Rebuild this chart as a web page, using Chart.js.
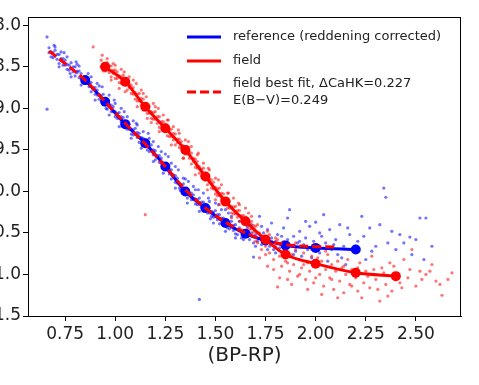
<!DOCTYPE html>
<html>
<head>
<meta charset="utf-8">
<script src="https://cdn.jsdelivr.net/npm/chart.js@4.4.1/dist/chart.umd.min.js"></script>
<style>
html, body { margin: 0; padding: 0; background: #fff; overflow: hidden; }
#wrap { position: absolute; left: -40px; top: 0; width: 519px; height: 385px; }
</style>
</head>
<body>
<div id="wrap"><canvas id="cmd-chart"></canvas></div>
<script>
// binned sequences (BP-RP colour vs magnitude)
const refColour = [0.85, 0.95, 1.05, 1.15, 1.25, 1.35, 1.45, 1.55, 1.65, 1.75, 1.85, 2.0, 2.2];
const refMag = [8.66, 8.92, 9.19, 9.42, 9.70, 10.0, 10.20, 10.38, 10.51, 10.59, 10.65, 10.68, 10.70];

const fieldColour = [0.95, 1.05, 1.15, 1.25, 1.35, 1.45, 1.55, 1.65, 1.75, 1.85, 2.0, 2.2, 2.4];
const fieldMag = [8.50, 8.68, 8.98, 9.24, 9.50, 9.82, 10.12, 10.36, 10.58, 10.76, 10.87, 10.98, 11.02];

const fitColour = [0.67, 0.75, 0.85, 0.95, 1.05, 1.15, 1.25, 1.35, 1.45, 1.55, 1.65, 1.75, 1.85, 1.95, 2.1];
const fitMag = [8.31, 8.46, 8.66, 8.92, 9.18, 9.43, 9.70, 9.98, 10.20, 10.37, 10.50, 10.59, 10.64, 10.66, 10.67];

// individual reference stars
const refStars = [
  [0.66,8.14],[0.66,9.01],[1.42,11.30],
  [0.67,8.27],[0.67,8.33],[0.68,8.38],[0.68,8.32],[0.69,8.33],[0.69,8.39],[0.70,8.37],[0.70,8.30],[0.71,8.41],[0.71,8.35],
  [0.72,8.35],[0.72,8.46],[0.73,8.42],[0.73,8.40],[0.74,8.48],[0.74,8.40],[0.75,8.42],[0.75,8.48],[0.76,8.53],[0.76,8.47],
  [0.77,8.48],[0.77,8.54],[0.78,8.52],[0.78,8.45],[0.79,8.56],[0.79,8.50],[0.80,8.50],[0.80,8.61],[0.81,8.57],[0.81,8.55],
  [0.82,8.63],[0.82,8.55],[0.83,8.58],[0.83,8.64],[0.84,8.69],[0.84,8.63],[0.85,8.64],[0.85,8.70],[0.86,8.70],[0.86,8.63],
  [0.87,8.74],[0.87,8.68],[0.88,8.69],[0.88,8.80],[0.89,8.77],[0.89,8.75],[0.90,8.83],[0.90,8.75],[0.91,8.78],[0.91,8.84],
  [0.92,8.89],[0.92,8.83],[0.93,8.85],[0.93,8.91],[0.94,8.90],[0.94,8.83],[0.95,8.95],[0.95,8.89],[0.96,8.90],[0.96,9.01],
  [0.97,8.97],[0.97,8.95],[0.98,9.04],[0.98,8.96],[0.99,8.98],[0.99,9.04],[1.00,9.10],[1.00,9.04],[1.01,9.06],[1.01,9.12],
  [1.02,9.12],[1.02,9.05],[1.03,9.16],[1.03,9.10],[1.04,9.11],[1.04,9.22],[1.05,9.19],[1.05,9.17],[1.06,9.25],[1.06,9.17],
  [1.07,9.19],[1.07,9.25],[1.08,9.31],[1.08,9.25],[1.09,9.26],[1.09,9.32],[1.10,9.31],[1.10,9.24],[1.11,9.35],[1.11,9.29],
  [1.12,9.30],[1.12,9.41],[1.13,9.37],[1.13,9.35],[1.14,9.44],[1.14,9.36],[1.15,9.38],[1.15,9.44],[1.16,9.50],[1.16,9.44],
  [1.17,9.46],[1.17,9.52],[1.18,9.51],[1.18,9.44],[1.19,9.56],[1.19,9.50],[1.20,9.51],[1.20,9.62],[1.21,9.59],[1.21,9.57],
  [1.22,9.65],[1.22,9.57],[1.23,9.60],[1.23,9.66],[1.24,9.72],[1.24,9.66],[1.25,9.68],[1.25,9.74],[1.26,9.74],[1.26,9.67],
  [1.27,9.79],[1.27,9.73],[1.28,9.74],[1.28,9.85],[1.29,9.82],[1.29,9.80],[1.30,9.89],[1.30,9.81],[1.31,9.84],[1.31,9.90],
  [1.32,9.96],[1.32,9.90],[1.33,9.92],[1.33,9.98],[1.34,9.98],[1.34,9.91],[1.35,10.03],[1.35,9.97],[1.36,9.97],[1.36,10.08],
  [1.37,10.04],[1.37,10.02],[1.38,10.10],[1.38,10.02],[1.39,10.04],[1.39,10.10],[1.40,10.15],[1.40,10.09],[1.41,10.10],[1.41,10.16],
  [1.42,10.15],[1.42,10.08],[1.43,10.19],[1.43,10.13],[1.44,10.13],[1.44,10.24],[1.45,10.20],[1.45,10.18],[1.46,10.26],[1.46,10.18],
  [1.47,10.20],[1.47,10.26],[1.48,10.30],[1.48,10.24],[1.49,10.25],[1.49,10.31],[1.50,10.30],[1.50,10.23],[1.51,10.34],[1.51,10.28],
  [1.52,10.28],[1.52,10.39],[1.53,10.34],[1.53,10.32],[1.54,10.40],[1.54,10.32],[1.55,10.34],[1.55,10.40],[1.56,10.44],[1.56,10.38],
  [1.57,10.39],[1.57,10.45],[1.58,10.43],[1.58,10.36],[1.59,10.47],[1.59,10.41],[1.60,10.40],[1.60,10.51],
  [0.695,8.24],[0.745,8.33],[0.805,8.44],[0.865,8.58],[0.935,8.74],[0.995,8.90],[1.045,9.04],[1.105,9.18],[1.165,9.30],
  [1.215,9.46],[1.265,9.58],[1.315,9.74],[1.365,9.88],[1.415,9.98],[1.465,10.08],[1.515,10.16],[1.565,10.26],
  [0.775,8.58],[0.955,9.00],[1.135,9.45],[1.325,9.99],[1.475,10.33],
  [0.70,8.26],[0.72,8.50],[0.76,8.38],[0.78,8.62],[0.82,8.49],[0.83,8.72],[0.88,8.62],[0.90,8.90],[0.92,8.73],[0.97,9.08],
  [1.00,8.94],[1.02,9.22],[1.06,9.10],[1.08,9.36],[1.11,9.20],[1.13,9.48],[1.17,9.36],[1.19,9.64],[1.23,9.52],[1.24,9.78],
  [1.28,9.66],[1.30,9.96],[1.34,9.84],[1.36,10.14],[1.40,9.98],[1.42,10.24],[1.47,10.12],[1.49,10.38],[1.53,10.22],[1.55,10.48],
  [1.58,10.30],[1.60,10.56],
  [0.73,8.32],[0.81,8.47],[0.91,8.70],[0.97,8.84],[1.03,9.00],[1.09,9.15],[1.14,9.28],[1.19,9.40],[1.25,9.55],[1.30,9.70],
  [1.35,9.85],[1.39,9.94],[1.44,10.02],[1.50,10.14],[1.55,10.22],
  [1.61,10.52],[1.62,10.44],[1.62,10.36],[1.63,10.56],[1.64,10.48],[1.64,10.58],[1.65,10.54],[1.66,10.42],[1.66,10.50],[1.67,10.58],
  [1.68,10.50],[1.68,10.40],[1.69,10.62],[1.69,10.79],[1.70,10.52],[1.70,10.66],[1.71,10.60],[1.72,10.30],[1.72,10.56],[1.73,10.64],
  [1.73,10.42],[1.74,10.50],[1.75,10.62],[1.76,10.46],[1.76,10.70],[1.77,10.66],[1.78,10.56],[1.78,10.38],[1.79,10.70],[1.80,10.60],
  [1.80,10.74],[1.81,10.52],[1.82,10.68],[1.83,10.62],[1.83,10.54],[1.84,10.44],[1.85,10.74],[1.86,10.58],[1.86,10.32],[1.87,10.22],
  [1.88,10.66],[1.89,10.54],[1.89,10.76],[1.90,10.72],[1.91,10.62],[1.92,10.48],[1.92,10.60],[1.93,10.78],[1.94,10.64],[1.95,10.56],
  [1.95,10.36],[1.96,10.70],[1.97,10.42],[1.98,10.80],[1.98,10.68],[1.99,10.60],[2.00,10.37],[2.01,10.66],[2.02,10.74],[2.02,10.50],
  [2.03,10.54],[2.04,10.28],[2.05,10.62],[2.06,10.84],[2.07,10.46],[2.08,10.70],[2.09,10.64],[2.10,10.58],[2.11,10.76],[2.12,10.40],
  [2.13,10.80],[2.14,10.66],[2.15,10.88],[2.16,10.44],[2.17,10.52],[2.19,10.72],[2.20,10.66],[2.21,10.60],[2.23,10.30],[2.24,10.54],
  [2.25,10.82],[2.27,10.44],[2.28,10.72],[2.30,10.66],[2.32,10.40],[2.34,9.96],[2.35,10.07],[2.36,10.62],[2.38,10.48],[2.40,10.70],
  [2.42,10.52],[2.44,10.62],[2.47,10.55],[2.48,10.76],[2.50,10.58],[2.52,10.32],[2.54,10.82],[2.55,10.32],[2.58,10.66]
];

// individual field stars
const fieldStars = [
  [0.89,8.26],[1.15,10.28],
  [0.93,8.42],[0.93,8.50],[0.94,8.55],[0.94,8.47],[0.95,8.47],[0.95,8.55],[0.96,8.54],[0.96,8.45],[0.97,8.57],[0.97,8.49],
  [0.98,8.49],[0.98,8.62],[0.99,8.58],[0.99,8.54],[1.00,8.64],[1.00,8.54],[1.01,8.56],[1.01,8.64],[1.02,8.69],[1.02,8.61],
  [1.03,8.62],[1.03,8.70],[1.04,8.69],[1.04,8.60],[1.05,8.72],[1.05,8.64],[1.06,8.65],[1.06,8.78],[1.07,8.75],[1.07,8.71],
  [1.08,8.82],[1.08,8.72],[1.09,8.75],[1.09,8.83],[1.10,8.89],[1.10,8.81],[1.11,8.83],[1.11,8.91],[1.12,8.91],[1.12,8.82],
  [1.13,8.96],[1.13,8.88],[1.14,8.89],[1.14,9.02],[1.15,8.99],[1.15,8.95],[1.16,9.06],[1.16,8.96],[1.17,8.98],[1.17,9.06],
  [1.18,9.12],[1.18,9.04],[1.19,9.05],[1.19,9.13],[1.20,9.13],[1.20,9.04],[1.21,9.18],[1.21,9.10],[1.22,9.10],[1.22,9.23],
  [1.23,9.20],[1.23,9.16],[1.24,9.26],[1.24,9.16],[1.25,9.19],[1.25,9.27],[1.26,9.33],[1.26,9.25],[1.27,9.26],[1.27,9.34],
  [1.28,9.34],[1.28,9.25],[1.29,9.38],[1.29,9.30],[1.30,9.31],[1.30,9.44],[1.31,9.41],[1.31,9.37],[1.32,9.47],[1.32,9.37],
  [1.33,9.40],[1.33,9.48],[1.34,9.53],[1.34,9.45],[1.35,9.47],[1.35,9.55],[1.36,9.55],[1.36,9.46],[1.37,9.60],[1.37,9.52],
  [1.38,9.54],[1.38,9.67],[1.39,9.64],[1.39,9.60],[1.40,9.71],[1.40,9.61],[1.41,9.64],[1.41,9.72],[1.42,9.78],[1.42,9.70],
  [1.43,9.73],[1.43,9.81],[1.44,9.81],[1.44,9.72],[1.45,9.86],[1.45,9.78],[1.46,9.79],[1.46,9.92],[1.47,9.89],[1.47,9.85],
  [1.48,9.96],[1.48,9.86],[1.49,9.89],[1.49,9.97],[1.50,10.03],[1.50,9.95],[1.51,9.97],[1.51,10.05],[1.52,10.05],[1.52,9.96],
  [1.53,10.10],[1.53,10.02],[1.54,10.03],[1.54,10.16],[1.55,10.13],[1.55,10.09],[1.56,10.20],[1.56,10.10],[1.57,10.12],[1.57,10.20],
  [1.58,10.26],[1.58,10.18],[1.59,10.19],[1.59,10.27],[1.60,10.27],[1.60,10.18],[1.61,10.31],[1.61,10.23],[1.62,10.23],[1.62,10.36],
  [1.63,10.33],[1.63,10.29],[1.64,10.39],[1.64,10.29],[1.65,10.31],[1.65,10.39],[1.66,10.44],[1.66,10.36],[1.67,10.38],[1.67,10.46],
  [1.68,10.45],[1.68,10.36],[1.69,10.49],[1.69,10.41],[1.70,10.42],[1.70,10.55],
  [0.935,8.36],[0.99,8.46],[1.045,8.56],[1.105,8.70],[1.155,8.86],[1.215,9.00],[1.265,9.14],[1.315,9.26],[1.365,9.40],
  [1.415,9.54],[1.465,9.72],[1.515,9.86],[1.565,10.02],[1.615,10.14],[1.665,10.26],
  [1.02,8.76],[1.18,9.17],[1.34,9.60],[1.50,10.10],[1.63,10.46],
  [0.96,8.40],[0.98,8.66],[1.03,8.53],[1.05,8.80],[1.09,8.66],[1.11,8.98],[1.14,8.82],[1.16,9.12],[1.20,8.98],[1.22,9.28],
  [1.26,9.14],[1.28,9.44],[1.32,9.30],[1.34,9.60],[1.38,9.46],[1.40,9.80],[1.44,9.66],[1.46,9.98],[1.50,9.84],[1.52,10.16],
  [1.56,10.02],[1.58,10.32],[1.62,10.16],[1.64,10.48],[1.68,10.30],[1.70,10.60],
  [1.00,8.48],[1.07,8.62],[1.13,8.78],[1.19,8.94],[1.24,9.08],[1.29,9.22],[1.35,9.38],[1.41,9.56],[1.47,9.74],[1.53,9.92],
  [1.59,10.08],[1.65,10.20],
  [1.71,10.62],[1.71,10.40],[1.72,10.50],[1.72,10.80],[1.73,10.70],[1.73,10.58],[1.74,10.54],[1.75,10.66],[1.75,10.76],[1.76,10.48],
  [1.76,10.90],[1.77,10.74],[1.77,10.52],[1.78,10.60],[1.79,10.82],[1.79,10.94],[1.80,10.66],[1.80,10.56],[1.81,10.58],[1.81,11.15],
  [1.82,10.78],[1.82,11.04],[1.83,10.90],[1.84,10.70],[1.84,10.60],[1.85,10.84],[1.86,10.64],[1.86,11.06],[1.86,10.86],[1.87,10.96],
  [1.88,10.76],[1.88,11.12],[1.89,10.88],[1.90,10.70],[1.90,10.62],[1.91,11.02],[1.92,10.82],[1.92,11.00],[1.93,10.92],[1.94,10.74],
  [1.94,10.88],[1.95,11.06],[1.96,10.86],[1.96,11.18],[1.97,10.96],[1.98,10.78],[1.98,10.70],[1.99,11.10],[2.00,10.90],[2.00,11.04],
  [2.01,10.80],[2.02,11.00],[2.03,10.84],[2.03,11.24],[2.04,11.14],[2.05,10.94],[2.05,10.72],[2.06,10.76],[2.07,11.04],[2.08,10.88],
  [2.08,11.06],[2.09,11.18],[2.10,10.96],[2.11,10.84],[2.11,11.28],[2.12,11.08],[2.13,10.92],[2.14,11.22],[2.14,10.90],[2.15,11.00],
  [2.16,10.82],[2.17,11.12],[2.18,10.94],[2.18,11.14],[2.20,11.04],[2.21,11.20],[2.21,10.92],[2.22,10.86],[2.23,11.28],[2.24,11.10],
  [2.25,10.96],[2.26,11.02],[2.27,11.16],[2.28,10.78],[2.29,10.94],[2.30,11.06],[2.31,11.18],[2.32,11.32],[2.33,10.92],[2.34,10.98],
  [2.35,11.12],[2.36,11.26],[2.37,10.86],[2.38,11.20],[2.39,10.90],[2.40,11.00],[2.42,11.10],[2.43,11.16],[2.44,10.82],[2.46,11.04],
  [2.47,10.94],[2.48,10.70],[2.50,11.14],[2.52,10.96],[2.53,11.06],[2.55,11.00],[2.57,10.96],[2.58,10.88],[2.60,11.08],[2.62,11.12],
  [2.63,11.25],[2.66,11.06],[2.68,10.98]
];

const xTicks = [0.75, 1.00, 1.25, 1.50, 1.75, 2.00, 2.25, 2.50];
const yTicks = [8.0, 8.5, 9.0, 9.5, 10.0, 10.5, 11.0, 11.5];

const legendItems = [
  { text: ['reference (reddening corrected)'], color: '#0000ff', dash: [] },
  { text: ['field'], color: '#ff0000', dash: [] },
  { text: ['field best fit, \u0394CaHK=0.227', 'E(B\u2212V)=0.249'], color: '#ff0000', dash: [9, 4] }
];

function toPoints(xs, ys) {
  return xs.map((x, i) => ({ x: x, y: ys[i] }));
}

// axes box on all four sides
const frame = {
  id: 'frame',
  afterDraw(chart) {
    const { ctx, chartArea: a } = chart;
    ctx.save();
    ctx.strokeStyle = '#000';
    ctx.lineWidth = 1;
    ctx.strokeRect(a.left + 0.5, a.top + 0.5, a.right - a.left - 1, a.bottom - a.top);
    ctx.restore();
  }
};

// matplotlib style legend in the upper right
const insetLegend = {
  id: 'insetLegend',
  afterDraw(chart) {
    const { ctx, chartArea: a } = chart;
    const x0 = a.left + 159, x1 = a.left + 193, tx = a.left + 205;
    const rows = [a.top + 20, a.top + 44, a.top + 75];
    ctx.save();
    ctx.font = '13px "DejaVu Sans"';
    ctx.textBaseline = 'middle';
    ctx.fillStyle = '#222';
    legendItems.forEach((item, i) => {
      const y = rows[i];
      ctx.strokeStyle = item.color;
      ctx.lineWidth = 3;
      ctx.setLineDash(item.dash);
      ctx.beginPath();
      ctx.moveTo(x0, y);
      ctx.lineTo(x1, y);
      ctx.stroke();
      ctx.setLineDash([]);
      const lh = 17;
      const start = y - (item.text.length - 1) * lh / 2;
      item.text.forEach((t, j) => ctx.fillText(t, tx, start + j * lh));
    });
    ctx.restore();
  }
};

const tickFont = { family: 'DejaVu Sans', size: 17 };

new Chart(document.getElementById('cmd-chart'), {
  type: 'scatter',
  data: {
    datasets: [
      {
        label: 'field best fit',
        data: toPoints(fitColour, fitMag),
        showLine: true,
        borderColor: '#ff0000',
        borderWidth: 3,
        borderDash: [9, 4],
        pointRadius: 0,
        cubicInterpolationMode: 'monotone',
        order: 0
      },
      {
        label: 'field',
        data: toPoints(fieldColour, fieldMag),
        showLine: true,
        borderColor: '#ff0000',
        backgroundColor: '#ff0000',
        borderWidth: 3,
        pointRadius: 5,
        pointBorderWidth: 0,
        cubicInterpolationMode: 'monotone',
        order: 1
      },
      {
        label: 'reference (reddening corrected)',
        data: toPoints(refColour, refMag),
        showLine: true,
        borderColor: '#0000ff',
        backgroundColor: '#0000ff',
        borderWidth: 3,
        pointRadius: 5,
        pointBorderWidth: 0,
        cubicInterpolationMode: 'monotone',
        order: 2
      },
      {
        label: 'field stars',
        data: fieldStars.map(p => ({ x: p[0], y: p[1] })),
        backgroundColor: 'rgba(255,0,0,0.55)',
        borderWidth: 0,
        pointRadius: 1.6,
        order: 3
      },
      {
        label: 'reference stars',
        data: refStars.map(p => ({ x: p[0], y: p[1] })),
        backgroundColor: 'rgba(0,0,255,0.55)',
        borderWidth: 0,
        pointRadius: 1.6,
        order: 4
      }
    ]
  },
  options: {
    responsive: true,
    maintainAspectRatio: false,
    animation: false,
    layout: { padding: { left: 0, right: 18, top: 17, bottom: 0 } },
    plugins: {
      legend: { display: false },
      tooltip: { enabled: false }
    },
    scales: {
      x: {
        type: 'linear',
        min: 0.565,
        max: 2.725,
        afterBuildTicks: s => { s.ticks = xTicks.map(v => ({ value: v })); },
        afterFit: s => { s.height = 69; },
        ticks: {
          callback: v => v.toFixed(2),
          font: tickFont,
          color: '#222',
          padding: 3,
          maxRotation: 0,
          autoSkip: false
        },
        grid: { drawOnChartArea: false, drawTicks: true, tickLength: 5, tickColor: '#000' },
        border: { display: true, color: '#000' },
        title: {
          display: true,
          text: '(BP-RP)',
          font: { family: 'DejaVu Sans', size: 20 },
          color: '#222',
          padding: { top: 0, bottom: 17 }
        }
      },
      y: {
        type: 'linear',
        reverse: true,
        min: 7.9,
        max: 11.5,
        afterBuildTicks: s => { s.ticks = yTicks.map(v => ({ value: v })); },
        afterFit: s => { s.width = 68; },
        ticks: {
          callback: v => v.toFixed(1),
          font: tickFont,
          color: '#222',
          padding: 2,
          autoSkip: false
        },
        grid: { drawOnChartArea: false, drawTicks: true, tickLength: 5, tickColor: '#000' },
        border: { display: true, color: '#000' }
      }
    }
  },
  plugins: [frame, insetLegend]
});
</script>
</body>
</html>
